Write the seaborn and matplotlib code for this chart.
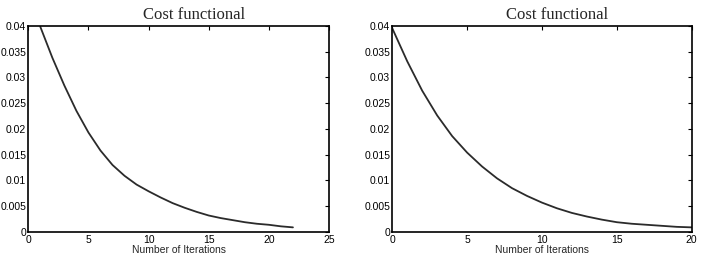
import numpy as np
import pandas as pd
import matplotlib
matplotlib.use('Agg')
import matplotlib.pyplot as plt
import seaborn as sns

# values
iter_left = list(range(1, 23))
cost_left = [0.0398, 0.0338, 0.0284, 0.0235, 0.0193, 0.0158, 0.0130, 0.0109,
             0.0092, 0.0079, 0.0067, 0.0056, 0.0047, 0.0039, 0.0032, 0.0027,
             0.0023, 0.0019, 0.0016, 0.0014, 0.0011, 0.0009]

iter_right = list(range(0, 21))
cost_right = [0.0395, 0.0331, 0.0274, 0.0226, 0.0186, 0.0154, 0.0127, 0.0104,
              0.0085, 0.0070, 0.0057, 0.0046, 0.0037, 0.0030, 0.0024, 0.0019,
              0.0016, 0.0014, 0.0012, 0.0010, 0.0009]

y_ticks = [0, 0.005, 0.01, 0.015, 0.02, 0.025, 0.03, 0.035, 0.04]
y_ticklabels = ['0', '0.005', '0.01', '0.015', '0.02', '0.025', '0.03', '0.035', '0.04']
x_ticks_left = [0, 5, 10, 15, 20, 25]
x_ticks_right = [0, 5, 10, 15, 20]

title_text = 'Cost functional'
xlabel_text = 'Number of Iterations'

sns.set_style('white')
plt.rcParams['font.family'] = ['Liberation Sans', 'DejaVu Sans']

fig = plt.figure(figsize=(7.02, 2.54), dpi=100)
ax1 = fig.add_axes([0.0403, 0.0866, 0.4284, 0.812])
ax2 = fig.add_axes([0.5588, 0.0866, 0.4265, 0.812])

df_left = pd.DataFrame({'iter': iter_left, 'cost': cost_left})
df_right = pd.DataFrame({'iter': iter_right, 'cost': cost_right})

panels = [(ax1, df_left, x_ticks_left, 25), (ax2, df_right, x_ticks_right, 20)]
for ax, df, xt, xmax in panels:
    sns.lineplot(data=df, x='iter', y='cost', ax=ax, color='#2b2b2b', linewidth=1.3)
    ax.set_xlim(0, xmax)
    ax.set_ylim(0, 0.04)
    ax.set_xticks(xt)
    ax.set_xticklabels([str(v) for v in xt])
    ax.set_yticks(y_ticks)
    ax.set_yticklabels(y_ticklabels)
    ax.tick_params(direction='in', length=3, width=0.8, labelsize=7.5,
                   top=True, right=True, colors='black', pad=1.5)
    ax.tick_params(axis='x', pad=2)
    for s in ax.spines.values():
        s.set_visible(True)
        s.set_color('black')
        s.set_linewidth(1.2)
    ax.set_xlabel(xlabel_text, fontsize=7.5, labelpad=0)
    ax.set_ylabel('')
    ax.set_title(title_text, fontsize=12, family=['Liberation Serif', 'DejaVu Serif'],
                 x=0.55, pad=5)

fig.savefig('out.png', dpi=100)
